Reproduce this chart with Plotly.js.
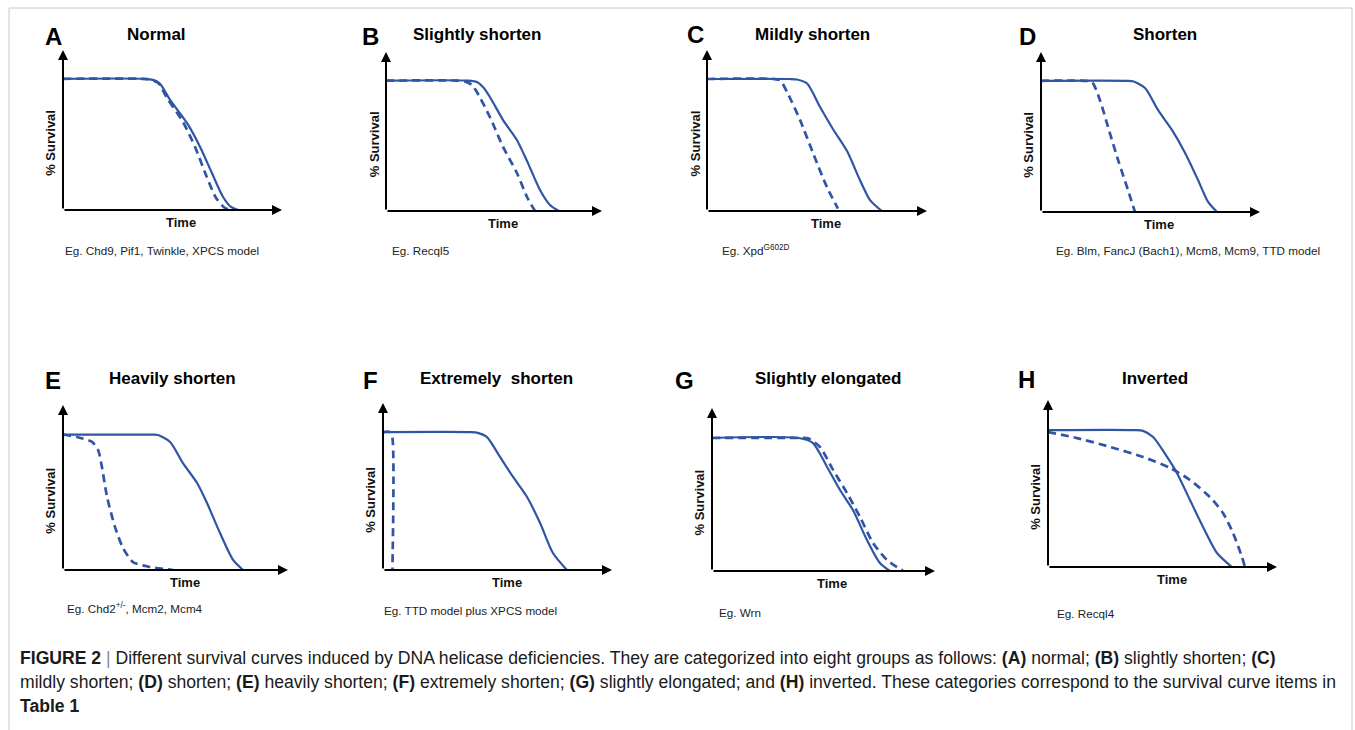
<!DOCTYPE html>
<html>
<head>
<meta charset="utf-8">
<script src="https://cdn.plot.ly/plotly-3.0.1.min.js"></script>
<style>
html,body{margin:0;padding:0;background:#fff;}
#chart{width:1355px;height:730px;}
</style>
</head>
<body>
<div id="chart"></div>
<script>
// ---------------- DATA (normalised: time 0-100, survival 0-100) ----------------
const panelLetters = ['A','B','C','D','E','F','G','H'];
const panelTitles = ['Normal','Slightly shorten','Mildly shorten','Shorten','Heavily shorten','Extremely  shorten','Slightly elongated','Inverted'];
const panelExamples = [
  'Eg. Chd9, Pif1, Twinkle, XPCS model',
  'Eg. Recql5',
  'Eg. Xpd<sup>G602D</sup>',
  'Eg. Blm, FancJ (Bach1), Mcm8, Mcm9, TTD model',
  'Eg. Chd2<sup>+/-</sup>, Mcm2, Mcm4',
  'Eg. TTD model plus XPCS model',
  'Eg. Wrn',
  'Eg. Recql4'
];
const xAxisLabel = 'Time';
const yAxisLabel = '% Survival';

const aSolidX = [0, 37, 41, 44.3, 48.9, 56.6, 62.6, 68, 73.1, 76.7, 80];
const aSolidY = [82, 82, 81.3, 78.8, 68.8, 54.4, 39.4, 23.1, 8.1, 1.9, 0];
const aDashX  = [0, 36, 39.7, 43.4, 47.5, 54.8, 60.3, 65.3, 69.9, 74, 77.2];
const aDashY  = [82, 82, 81.6, 79.5, 70, 55, 39.4, 21.9, 7.5, 1.2, 0];

const bSolidX = [0, 38, 42.1, 45, 48.1, 54.2, 60.6, 65.7, 71.3, 75.9, 80.1];
const bSolidY = [82, 82, 81.1, 77.8, 71.7, 57.2, 44.7, 30.2, 13.2, 3.8, 0];
const bDashX  = [0, 33, 36.6, 39.8, 42.1, 48.1, 54.2, 60.6, 65.3, 69];
const bDashY  = [82, 82, 81.5, 79.2, 74.8, 59.1, 40.3, 23.9, 8.8, 0];

const cSolidX = [0, 37.5, 40.9, 45.5, 51.4, 57.3, 63.6, 69.5, 74.1, 79.5];
const cSolidY = [82, 82, 81.7, 79.2, 64.6, 50.8, 37.4, 19.3, 6.8, 0];
const cDashX  = [0, 30, 33.2, 36.4, 42.3, 48.2, 54.5, 59.5];
const cDashY  = [82, 82, 81.2, 73.9, 56.5, 36, 14.9, 1.5];

const dSolidX = [0, 39, 42, 47.5, 53.4, 59.8, 65.8, 71.7, 76.3, 80.4];
const dSolidY = [82, 82, 81.7, 77.5, 63.8, 51.3, 36.9, 20, 6.3, 0];
const dDashX  = [0, 20, 23.3, 26.9, 30.6, 35.2, 39.7, 42.9];
const dDashY  = [82, 82, 81.2, 70, 53.1, 32.5, 13.8, 0];

const eSolidX = [0, 40, 42.2, 47.6, 53.3, 59.6, 64, 69.8, 75.6, 80];
const eSolidY = [82, 82, 81.8, 77.6, 64.8, 52.7, 40.6, 22.4, 6.1, 0];
const eDashX  = [0, 6.2, 12.9, 15.6, 17.3, 19.6, 23.1, 26.7, 31.1, 38.7, 48.9];
const eDashY  = [82, 80.6, 77.6, 72.7, 62.4, 44.2, 26.1, 13.3, 4.8, 1.8, 0];

const fSolidX = [0, 38, 41, 45.4, 51.1, 56.8, 62.9, 68.6, 74.2, 80.3];
const fSolidY = [82.6, 82.6, 82.3, 79.6, 67.7, 55.7, 43.7, 28.1, 10.2, 0];
const fDashX  = [0, 3, 4.1, 4.1];
const fDashY  = [82.6, 82.6, 79, 0];

const gSolidX = [0, 39, 45.3, 51.6, 57.4, 63.2, 69.5, 75.3, 79.8];
const gSolidY = [81.6, 81.6, 78.5, 63.8, 49.7, 37.4, 19, 4.9, 0];
const gDashX  = [0, 39, 43, 48.4, 54.3, 60.5, 66.4, 72.2, 78.5, 85.7];
const gDashY  = [81.6, 81.6, 81.4, 76.1, 62, 47.9, 33.1, 17.2, 6.7, 0];

const hSolidX = [0, 38, 41.5, 45.9, 52, 56.3, 62, 67.7, 73.8, 80.3];
const hSolidY = [82, 82, 81.5, 77.8, 65.9, 56.3, 40.1, 24, 8.4, 0];
const hDashX  = [0, 12.7, 27.1, 41.5, 53.3, 62, 70.7, 76.4, 80.8, 84.7, 86];
const hDashY  = [80.8, 77.2, 71.9, 65.9, 59.3, 52.1, 41.9, 32.3, 20.4, 6, 0];

const captionLines = [
  '<b>FIGURE 2</b> <span style="color:#888">|</span> Different survival curves induced by DNA helicase deficiencies. They are categorized into eight groups as follows: <b>(A)</b> normal; <b>(B)</b> slightly shorten; <b>(C)</b>',
  'mildly shorten; <b>(D)</b> shorten; <b>(E)</b> heavily shorten; <b>(F)</b> extremely shorten; <b>(G)</b> slightly elongated; and <b>(H)</b> inverted. These categories correspond to the survival curve items in',
  '<b>Table 1</b>'
];

const seriesSolid = [[aSolidX,aSolidY],[bSolidX,bSolidY],[cSolidX,cSolidY],[dSolidX,dSolidY],[eSolidX,eSolidY],[fSolidX,fSolidY],[gSolidX,gSolidY],[hSolidX,hSolidY]];
const seriesDash  = [[aDashX,aDashY],[bDashX,bDashY],[cDashX,cDashY],[dDashX,dDashY],[eDashX,eDashY],[fDashX,fDashY],[gDashX,gDashY],[hDashX,hDashY]];

// ---------------- LAYOUT (pixel positions on the 1355x730 page) ----------------
const W = 1355, H = 730;
const boxes = [
  {l:63,  r:282,  b:210, t:50,  letter:[53,37],   title:[156,35],  eg:[63,250]},
  {l:386, r:602,  b:211, t:52,  letter:[370,37],  title:[477,35],  eg:[390,250]},
  {l:707, r:927,  b:211, t:50,  letter:[695,35],  title:[812,35],  eg:[720,250]},
  {l:1041,r:1260, b:212, t:52,  letter:[1027,37], title:[1165,35], eg:[1054,250]},
  {l:63,  r:288,  b:570, t:405, letter:[53,380],  title:[172,378], eg:[65,608]},
  {l:383, r:612,  b:570, t:403, letter:[370,380], title:[497,378], eg:[382,610]},
  {l:712, r:935,  b:571, t:408, letter:[684,380], title:[828,378], eg:[717,612]},
  {l:1048,r:1277, b:567, t:400, letter:[1026,379],title:[1155,378],eg:[1055,613]}
];
const px = v => v / W;
const py = v => 1 - v / H;

const BLUE = '#2f55a4';
const FONT = '"Liberation Sans", Arial, Helvetica, sans-serif';

const traces = [];
const annotations = [];
const layout = {
  width: W, height: H,
  margin: {l:0, r:0, t:0, b:0},
  paper_bgcolor: '#fff', plot_bgcolor: 'rgba(0,0,0,0)',
  showlegend: false,
  font: {family: FONT, color: '#111'},
  annotations: annotations,
  shapes: [{type:'rect', xref:'paper', yref:'paper', x0:px(9), x1:px(1352), y0:-0.05, y1:py(8),
            line:{color:'#c8c8c8', width:1}, fillcolor:'rgba(0,0,0,0)'}]
};

boxes.forEach((bx, i) => {
  const n = i === 0 ? '' : String(i + 1);
  const xa = 'x' + n, ya = 'y' + n;
  layout['xaxis' + n] = {domain:[px(bx.l), px(bx.r)], range:[0,100], anchor:ya,
    showgrid:false, zeroline:false, showline:false, showticklabels:false, ticks:'', fixedrange:true};
  layout['yaxis' + n] = {domain:[py(bx.b), py(bx.t)], range:[0,100], anchor:xa,
    showgrid:false, zeroline:false, showline:false, showticklabels:false, ticks:'', fixedrange:true};

  traces.push({x: seriesDash[i][0], y: seriesDash[i][1], xaxis:xa, yaxis:ya, mode:'lines',
    line:{color:BLUE, width:2.7, dash:'8px,5px', shape:'spline', smoothing:0.7}, hoverinfo:'skip', cliponaxis:false});
  traces.push({x: seriesSolid[i][0], y: seriesSolid[i][1], xaxis:xa, yaxis:ya, mode:'lines',
    line:{color:BLUE, width:2.2, shape:'spline', smoothing:0.7}, hoverinfo:'skip', cliponaxis:false});

  annotations.push({xref:xa, yref:ya, axref:xa, ayref:ya, x:100, y:0, ax:0, ay:0, text:'',
    showarrow:true, arrowhead:2, arrowsize:1, arrowwidth:2, arrowcolor:'#000', standoff:0, startstandoff:0});
  annotations.push({xref:xa, yref:ya, axref:xa, ayref:ya, x:0, y:100, ax:0, ay:0, text:'',
    showarrow:true, arrowhead:2, arrowsize:1, arrowwidth:2, arrowcolor:'#000', standoff:0, startstandoff:0});

  annotations.push({xref:xa, yref:ya, x:54, y:0, yshift:-12, text:'<b>' + xAxisLabel + '</b>', showarrow:false,
    xanchor:'center', yanchor:'middle', font:{size:13, color:'#111'}});
  annotations.push({xref:xa, yref:ya, x:0, y:42, xshift:-12, text:'<b>' + yAxisLabel + '</b>', showarrow:false,
    textangle:-90, xanchor:'center', yanchor:'middle', font:{size:13, color:'#111'}});

  annotations.push({xref:'paper', yref:'paper', x:px(bx.letter[0]), y:py(bx.letter[1]), text:'<b>' + panelLetters[i] + '</b>',
    showarrow:false, xanchor:'center', yanchor:'middle', font:{size:24, color:'#000'}});
  annotations.push({xref:'paper', yref:'paper', x:px(bx.title[0]), y:py(bx.title[1]), text:'<b>' + panelTitles[i] + '</b>',
    showarrow:false, xanchor:'center', yanchor:'middle', font:{size:17, color:'#000'}});
  annotations.push({xref:'paper', yref:'paper', x:px(bx.eg[0]), y:py(bx.eg[1]), text:panelExamples[i],
    showarrow:false, xanchor:'left', yanchor:'middle', font:{size:11.7, color:'#222'}});
});

const captionY = [658, 682, 706];
captionLines.forEach((t, k) => {
  annotations.push({xref:'paper', yref:'paper', x:px(18), y:py(captionY[k]), text:t, showarrow:false,
    xanchor:'left', yanchor:'middle', font:{size:17.6, color:'#1a1a1a'}});
});

Plotly.newPlot('chart', traces, layout, {staticPlot:true, displayModeBar:false});
</script>
</body>
</html>
